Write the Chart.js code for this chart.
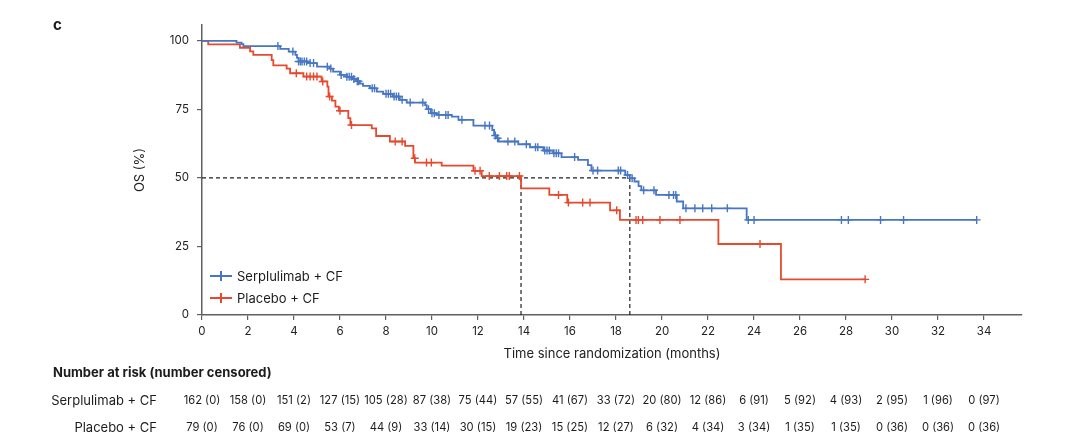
<!DOCTYPE html>
<html>
<head>
<meta charset="utf-8">
<script src="https://cdn.jsdelivr.net/npm/chart.js@4.4.1/dist/chart.umd.min.js"></script>
<style>
  html, body { margin: 0; padding: 0; background: #fff; }
  #wrap { position: relative; width: 1080px; height: 444px; font-family: Inter, 'Noto Sans', sans-serif; color: #1c1c1c; }
  #km { position: absolute; left: 0; top: 0; }
  .abs { position: absolute; white-space: nowrap; line-height: 1; }
  .panel { left: 53px; top: 17px; font-weight: 700; font-size: 15px; }
  .riskhead { left: 53px; top: 366px; font-weight: 700; font-size: 13px; }
  .rowlab { font-size: 13px; text-align: right; width: 157px; left: 0; }
  .cell { font-size: 11.2px; transform: translateX(-50%); }
  .leg { font-size: 13px; left: 210px; }
  .leg i { display: inline-block; position: relative; width: 22px; height: 2px; vertical-align: middle; margin-right: 5px; top: -1px; }
  .leg i::after { content: ''; position: absolute; left: 10px; top: -4px; width: 2px; height: 10px; background: inherit; }
</style>
</head>
<body>
<div id="wrap">
  <canvas id="km" width="1080" height="444"></canvas>
  <div class="abs panel">c</div>
  <div class="abs leg" style="top:270px"><i style="background:#4776c3"></i>Serplulimab + CF</div>
  <div class="abs leg" style="top:292px"><i style="background:#e64a2e"></i>Placebo + CF</div>
  <div class="abs riskhead">Number at risk (number censored)</div>
  <div class="abs rowlab" style="top:394px">Serplulimab + CF</div>
  <div class="abs rowlab" style="top:421px">Placebo + CF</div>
</div>
<script>
/* ===== DATA ===== */
// KM steps: [time in months, OS %]
const serpSteps = [
  [0, 100], [1.5, 99.4], [1.72, 98.8], [1.8, 98.1], [3.4, 97.1], [3.77, 96.1], [4.06, 94.9], [4.13, 93.8],
  [4.2, 92.5], [4.6, 91.9], [5.0, 90.6], [5.55, 89.9], [5.7, 88.8], [6.0, 87.6], [6.3, 86.9], [6.55, 86.1],
  [6.7, 85.3], [6.86, 84.4], [7.0, 83.6], [7.3, 82.7], [7.6, 81.5], [7.88, 80.7], [8.3, 79.7], [8.6, 78.5],
  [8.9, 77.5], [9.7, 76.6], [9.77, 75.1], [9.95, 73.6], [10.2, 73.0], [10.86, 72.4], [11.15, 71.2], [11.8, 69.1],
  [12.62, 67.5], [12.7, 65.5], [12.8, 64.5], [12.9, 63.3], [13.75, 62.3], [14.26, 61.2], [14.84, 60.0], [15.27, 59.0],
  [15.63, 57.6], [16.35, 56.6], [16.78, 54.7], [16.93, 52.7], [18.4, 51.1], [18.6, 49.9], [18.8, 48.7], [18.98, 47.0],
  [19.1, 45.5], [19.74, 43.8], [20.64, 41.4], [20.92, 38.9], [23.68, 34.7], [33.68, 34.7]
];
const placSteps = [
  [0, 100], [0.27, 98.7], [1.65, 97.5], [2.09, 96.2], [2.23, 94.9], [3.03, 93.0], [3.1, 91.1], [3.68, 89.9],
  [3.83, 88.2], [4.41, 87.0], [5.2, 85.2], [5.45, 83.3], [5.5, 79.7], [5.65, 78.2], [5.8, 76.0], [5.95, 74.5],
  [6.36, 71.8], [6.45, 69.3], [7.38, 68.1], [7.57, 65.3], [8.17, 63.3], [8.83, 61.7], [9.19, 57.2], [9.26, 55.6],
  [10.42, 54.5], [11.8, 52.6], [12.16, 50.7], [13.87, 46.2], [15.1, 43.8], [15.88, 41.0], [17.74, 38.2], [18.17, 34.7],
  [22.45, 25.9], [25.17, 13.0], [28.83, 13.0]
];
// censoring times (months)
const serpCensor = [3.3, 3.95, 4.2, 4.28, 4.35, 4.45, 4.55, 4.7, 4.85, 5.45, 5.6, 6.05, 6.3, 6.4, 6.5, 6.6, 6.75, 6.8,
  7.4, 7.5, 8.0, 8.1, 8.2, 8.35, 8.45, 8.55, 8.7, 9.05, 9.6, 9.85, 10.0, 10.1, 10.3, 10.6, 10.7, 11.3, 12.3, 12.5,
  12.75, 12.85, 13.3, 13.6, 14.1, 14.5, 14.6, 14.9, 15.0, 15.1, 15.3, 15.4, 15.5, 16.2, 17.0, 17.2, 18.1, 18.2,
  18.5, 18.7, 19.2, 19.65, 20.3, 20.5, 20.6, 21.04, 21.43, 21.77, 22.16, 22.84, 23.75, 24.0, 27.8, 28.1, 29.5,
  30.5, 33.68];
const placCensor = [4.1, 4.55, 4.7, 4.85, 5.0, 5.25, 5.55, 6.0, 6.5, 8.4, 8.7, 9.25, 9.76, 9.97, 11.87, 12.09,
  12.49, 12.93, 13.25, 13.36, 13.8, 15.5, 15.93, 16.55, 16.87, 18.03, 18.87, 18.97, 19.16, 19.91, 20.78, 24.26, 28.83];

const medianSerp = 18.6;
const medianPlac = 13.87;

const xTicks = [0, 2, 4, 6, 8, 10, 12, 14, 16, 18, 20, 22, 24, 26, 28, 30, 32, 34];
const yTicks = [0, 25, 50, 75, 100];

const riskTimes = xTicks;
const serpAtRisk = [162, 158, 151, 127, 105, 87, 75, 57, 41, 33, 20, 12, 6, 5, 4, 2, 1, 0];
const serpCensored = [0, 0, 2, 15, 28, 38, 44, 55, 67, 72, 80, 86, 91, 92, 93, 95, 96, 97];
const placAtRisk = [79, 76, 69, 53, 44, 33, 30, 19, 15, 12, 6, 4, 3, 1, 1, 0, 0, 0];
const placCensored = [0, 0, 0, 7, 9, 14, 15, 23, 25, 27, 32, 34, 34, 35, 35, 36, 36, 36];

/* ===== HELPERS ===== */
const BLUE = '#4776c3';
const RED = '#e64a2e';
const AXIS = '#606060';
const tickFont = { family: 'Inter', size: 11.5 };
const titleFont = { family: 'Inter', size: 13 };

const survAt = (steps, t) => {
  let s = steps[0][1];
  steps.forEach(([ts, v]) => { if (ts <= t) s = v; });
  return s;
};
const toXY = steps => steps.map(([x, y]) => ({ x, y }));
const censorPts = (steps, times) => times.map(t => ({ x: t, y: survAt(steps, t) }));

const dashed = { borderColor: '#222', borderWidth: 1.2, borderDash: [4, 3], pointRadius: 0, fill: false, order: 5 };

const chart = new Chart(document.getElementById('km'), {
  type: 'line',
  data: {
    datasets: [
      { ...dashed, data: [{ x: 0, y: 50 }, { x: medianSerp, y: 50 }] },
      { ...dashed, data: [{ x: medianPlac, y: 50 }, { x: medianPlac, y: 0 }] },
      { ...dashed, data: [{ x: medianSerp, y: 50 }, { x: medianSerp, y: 0 }] },
      { data: toXY(placSteps), stepped: 'before', borderColor: RED, borderWidth: 1.8, pointRadius: 0, order: 2 },
      { data: toXY(serpSteps), stepped: 'before', borderColor: BLUE, borderWidth: 1.8, pointRadius: 0, order: 1 },
      { type: 'scatter', data: censorPts(placSteps, placCensor), pointStyle: 'cross', pointRadius: 4,
        borderColor: RED, pointBorderWidth: 1.4, order: 2 },
      { type: 'scatter', data: censorPts(serpSteps, serpCensor), pointStyle: 'cross', pointRadius: 4,
        borderColor: BLUE, pointBorderWidth: 1.4, order: 1 }
    ]
  },
  options: {
    responsive: false, animation: false,
    layout: { padding: { left: 132, top: 25, right: 58, bottom: 79 } },
    plugins: { legend: { display: false }, tooltip: { enabled: false } },
    scales: {
      x: {
        type: 'linear', min: 0, max: 35.65,
        afterBuildTicks: s => { s.ticks = xTicks.map(v => ({ value: v })); },
        afterFit: s => { s.height = 50; },
        grid: { drawOnChartArea: false, drawTicks: true, tickLength: 5, color: AXIS, lineWidth: 1.2 },
        border: { display: true, color: AXIS, width: 1.5 },
        ticks: { font: tickFont, color: '#222', padding: 5, maxRotation: 0 },
        title: { display: true, text: 'Time since randomization (months)', font: titleFont, color: '#222', padding: { top: 0, bottom: 3 } }
      },
      y: {
        type: 'linear', min: 0, max: 105.8,
        afterBuildTicks: s => { s.ticks = yTicks.map(v => ({ value: v })); },
        afterFit: s => { s.width = 70; },
        grid: { drawOnChartArea: false, drawTicks: true, tickLength: 5, color: AXIS, lineWidth: 1.2 },
        border: { display: true, color: AXIS, width: 1.5 },
        ticks: { font: tickFont, color: '#222', padding: 8 },
        title: { display: true, text: 'OS (%)', font: titleFont, color: '#222', padding: { top: 0, bottom: 0 } }
      }
    }
  }
});

/* ===== RISK TABLE ===== */
const wrap = document.getElementById('wrap');
const addRow = (atRisk, censored, top) => {
  atRisk.forEach((n, i) => {
    const d = document.createElement('div');
    d.className = 'abs cell';
    d.style.top = top + 'px';
    d.style.left = chart.scales.x.getPixelForValue(riskTimes[i]) + 'px';
    d.textContent = n + ' (' + censored[i] + ')';
    wrap.appendChild(d);
  });
};
addRow(serpAtRisk, serpCensored, 395);
addRow(placAtRisk, placCensored, 422);
</script>
</body>
</html>
